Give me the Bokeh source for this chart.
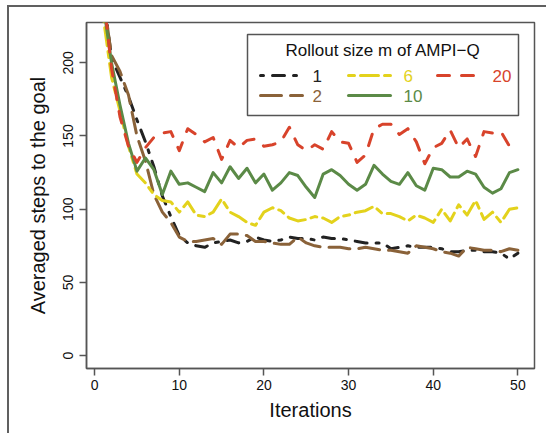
from bokeh.plotting import figure
from bokeh.models import Range1d, FixedTicker
from bokeh.core.properties import value
from bokeh.embed import file_html
from bokeh.resources import INLINE

iterations = list(range(1, 51))

steps_m1 = [248, 203, 190, 177, 161, 146, 129, 109, 95, 82,
            77, 75, 74, 77, 78, 79, 77, 78, 81, 79,
            78, 79, 81, 80, 80, 79, 81, 80, 80, 79,
            78, 77, 77, 77, 73, 74, 75, 74, 74, 74,
            73, 71, 71, 72, 72, 71, 71, 70, 66, 70]
steps_m2 = [245, 205, 194, 178, 150, 133, 110, 98, 91, 81,
            78, 78, 79, 80, 76, 83, 83, 82, 78, 78,
            77, 76, 76, 81, 77, 75, 74, 74, 74, 73,
            73, 74, 73, 72, 72, 71, 70, 75, 74, 73,
            71, 70, 68, 74, 73, 72, 72, 71, 73, 72]
steps_m6 = [232, 190, 167, 143, 124, 118, 110, 106, 105, 98,
            105, 96, 95, 98, 107, 98, 95, 91, 89, 98,
            101, 99, 94, 92, 93, 95, 94, 91, 95, 96,
            98, 99, 102, 97, 97, 95, 92, 96, 94, 91,
            100, 92, 103, 96, 106, 93, 98, 91, 100, 101]
steps_m10 = [240, 200, 171, 145, 126, 135, 127, 110, 126, 117,
             118, 115, 112, 125, 118, 129, 121, 128, 118, 124,
             113, 118, 125, 123, 115, 108, 124, 127, 123, 117,
             113, 117, 130, 124, 119, 117, 125, 116, 113, 128,
             127, 122, 122, 126, 124, 115, 111, 114, 125, 127]
steps_m20 = [248, 196, 163, 143, 132, 142, 149, 152, 153, 140,
             155, 151, 146, 149, 134, 147, 142, 147, 148, 143,
             144, 146, 156, 144, 140, 144, 141, 153, 146, 145,
             132, 137, 155, 158, 158, 151, 155, 146, 131, 142,
             145, 154, 142, 148, 136, 153, 152, 153, 143, 147]

series_labels = ["1", "2", "6", "10", "20"]
series_values = [steps_m1, steps_m2, steps_m6, steps_m10, steps_m20]
series_colors = ["#222222", "#8a6239", "#e3d21c", "#5b8a47", "#d8432b"]
series_dash = ["3 9 12 9", "21 9", "6 6 18 6", "solid", "12 12"]

x_ticks = [0, 10, 20, 30, 40, 50]
y_ticks = [0, 50, 100, 150, 200]
legend_title = "Rollout size m of AMPI\u2212Q"
x_label = "Iterations"
y_label = "Averaged steps to the goal"

FONT = "Liberation Sans"
AX = "#555555"

X0, X1 = -0.96, 51.96
Y0, Y1 = -8.76, 227.5

# frame geometry in window pixels (for placing the legend)
FL, FR, FT, FB = 86.0, 534.0, 22.0, 368.0


def dx(px):
    return X0 + (px - FL) / (FR - FL) * (X1 - X0)


def dy(py):
    return Y0 + (FB - py) / (FB - FT) * (Y1 - Y0)


p = figure(width=539, height=428, output_backend="svg", toolbar_location=None,
           x_range=Range1d(X0, X1), y_range=Range1d(Y0, Y1),
           min_border_left=77, min_border_right=14, min_border_top=15,
           min_border_bottom=67)
p.margin = (5, 0, 0, 7)
p.styles = {"border-top": "2px solid #606060", "border-left": "2px solid #606060"}
p.background_fill_color = "white"
p.border_fill_color = "white"
p.outline_line_color = AX
p.outline_line_width = 1.5
p.grid.visible = False

for ax in (p.xaxis[0], p.yaxis[0]):
    ax.axis_line_color = AX
    ax.axis_line_width = 1.5
    ax.major_tick_line_color = AX
    ax.major_tick_line_width = 1.5
    ax.major_tick_out = 7
    ax.major_tick_in = 0
    ax.minor_tick_line_color = None
    ax.major_label_text_font = FONT
    ax.major_label_text_font_size = "14px"
    ax.major_label_text_color = "#111111"
    ax.axis_label_text_font = FONT
    ax.axis_label_text_font_size = "20px"
    ax.axis_label_text_font_style = "normal"
    ax.axis_label_text_color = "#111111"

p.xaxis.ticker = FixedTicker(ticks=x_ticks)
p.yaxis.ticker = FixedTicker(ticks=y_ticks)
p.xaxis.axis_label = x_label
p.yaxis.axis_label = y_label
p.xaxis.major_label_standoff = 4
p.xaxis.axis_label_standoff = 6
p.yaxis.major_label_orientation = "vertical"
p.yaxis.major_label_standoff = 6
p.yaxis.axis_label_standoff = 12

for vals, col, dash in zip(series_values, series_colors, series_dash):
    p.line(iterations, vals, line_color=col, line_width=3, line_dash=dash,
           line_cap="round", line_join="round")

# legend (drawn as glyphs so each label keeps its series colour)
p.quad(left=[dx(247)], right=[dx(518)], top=[dy(34)], bottom=[dy(115)],
       fill_color="white", line_color=AX, line_width=1.5)
p.text(x=[dx(382.5)], y=[dy(50)], text=[legend_title], text_font=value(FONT),
       text_font_size="17px", text_color="#111111", text_align="center",
       text_baseline="middle")

col_x = [260, 260, 348, 348, 437]
row_y = [75, 95, 75, 95, 75]
lab_x = [312, 312, 403, 403, 492]
for lab, col, dash, sx, sy, lx in zip(series_labels, series_colors, series_dash,
                                      col_x, row_y, lab_x):
    p.line([dx(sx), dx(sx + 42)], [dy(sy), dy(sy)], line_color=col, line_width=3,
           line_dash=dash, line_cap="round")
    p.text(x=[dx(lx)], y=[dy(sy)], text=[lab], text_font=value(FONT),
           text_font_size="17px", text_color=col, text_align="left",
           text_baseline="middle")

open("out.html", "w").write(file_html(p, INLINE))
